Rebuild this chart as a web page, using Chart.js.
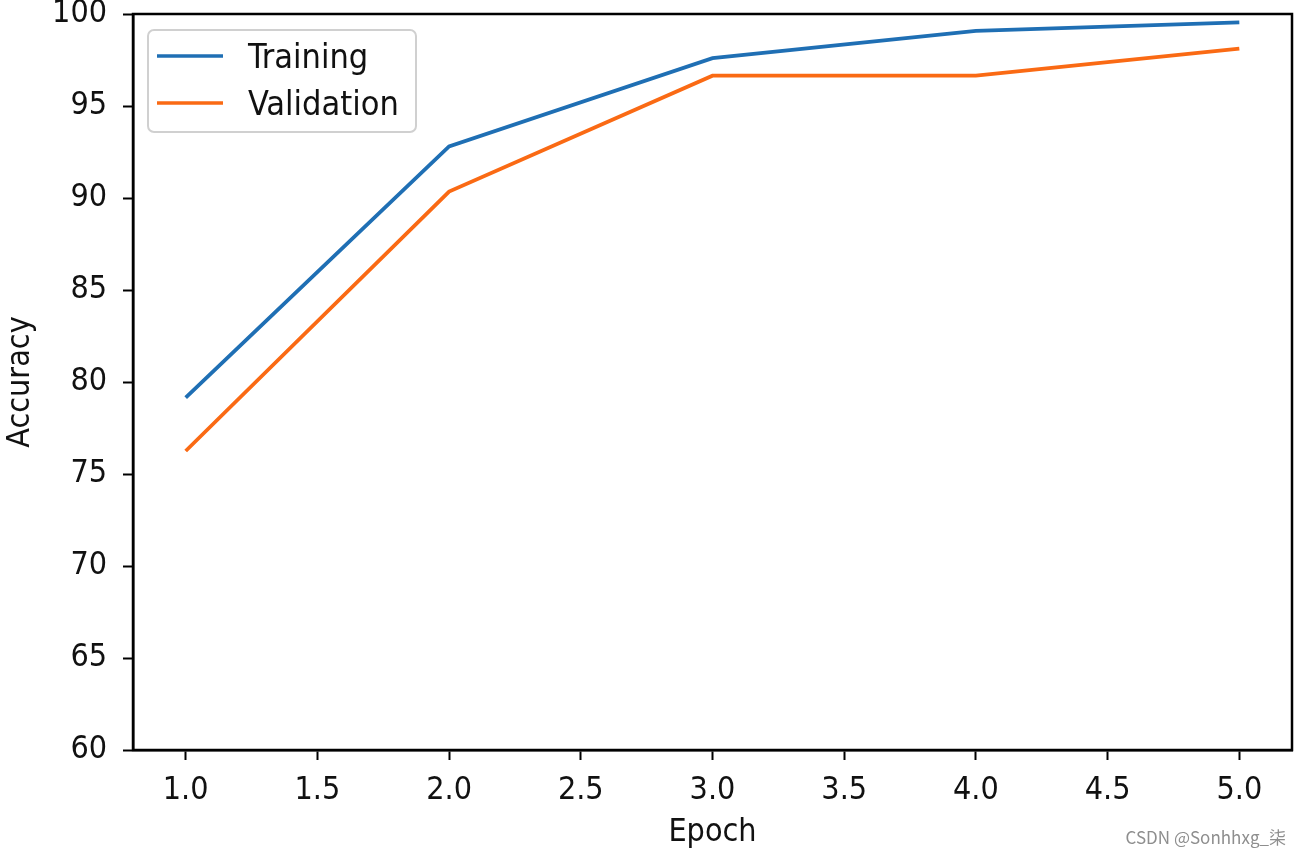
<!DOCTYPE html>
<html>
<head>
<meta charset="utf-8">
<script src="https://cdn.jsdelivr.net/npm/chart.js@4/dist/chart.umd.min.js"></script>
<style>
  html, body { margin: 0; padding: 0; background: #fff; }
  #wrap { position: relative; width: 1300px; height: 856px; }
  #mark { position: absolute; right: 14px; bottom: 7px; font: 17px "Noto Sans CJK SC", "DejaVu Sans", sans-serif; color: #8e8e8e; }
</style>
</head>
<body>
<div id="wrap">
  <canvas id="chart" width="1300" height="856"></canvas>
  <div id="mark">CSDN @Sonhhxg_柒</div>
</div>
<script>
// epochs and accuracy values
const epochs = [1, 2, 3, 4, 5];
const trainAcc = [79.15, 92.8, 97.6, 99.08, 99.55];
const valAcc = [76.25, 90.35, 96.65, 96.65, 98.12];
const xTicks = [1.0, 1.5, 2.0, 2.5, 3.0, 3.5, 4.0, 4.5, 5.0];
const yTicks = [60, 65, 70, 75, 80, 85, 90, 95, 100];

const FONT = '"DejaVu Sans Condensed", "DejaVu Sans", sans-serif';
const SIZE = 32;

function toPoints(values) {
    return epochs.map((e, i) => ({ x: e, y: values[i] }));
}

// cadre noir + légende dans la zone du graphique
const framePlugin = {
    id: 'frame',
    afterDraw(chart) {
        const ctx = chart.ctx;
        const a = chart.chartArea;
        ctx.save();
        ctx.strokeStyle = '#000';
        ctx.lineWidth = 2.5;
        ctx.strokeRect(a.left, a.top, a.right - a.left, a.bottom - a.top);

        // légende
        const bx = a.left + 15, by = a.top + 16, bw = 268, bh = 102;
        ctx.fillStyle = 'rgba(255,255,255,0.85)';
        ctx.strokeStyle = '#d0d0d0';
        ctx.lineWidth = 2;
        ctx.beginPath();
        ctx.roundRect(bx, by, bw, bh, 6);
        ctx.fill();
        ctx.stroke();
        ctx.font = '34px ' + FONT;
        ctx.textBaseline = 'middle';
        chart.data.datasets.forEach((ds, i) => {
            const y = by + 26 + i * 47;
            ctx.strokeStyle = ds.borderColor;
            ctx.lineWidth = 3.5;
            ctx.beginPath();
            ctx.moveTo(bx + 9, y);
            ctx.lineTo(bx + 75, y);
            ctx.stroke();
            ctx.fillStyle = '#111';
            ctx.fillText(ds.label, bx + 100, y + 3);
        });
        ctx.restore();
    }
};

new Chart(document.getElementById('chart'), {
    type: 'line',
    data: {
        datasets: [
            { label: 'Training', data: toPoints(trainAcc), borderColor: '#1f6fb4', borderWidth: 3.8, pointRadius: 0, tension: 0 },
            { label: 'Validation', data: toPoints(valAcc), borderColor: '#fa6a14', borderWidth: 3.8, pointRadius: 0, tension: 0 }
        ]
    },
    options: {
        responsive: false,
        animation: false,
        layout: { padding: { top: 14, right: 8, left: 0, bottom: 0 } },
        plugins: { legend: { display: false }, tooltip: { enabled: false } },
        scales: {
            x: {
                type: 'linear',
                min: 0.8,
                max: 5.2,
                afterBuildTicks: s => { s.ticks = xTicks.map(v => ({ value: v })); },
                afterFit: s => { s.height = 106; s.paddingLeft = 0; s.paddingRight = 0; },
                border: { display: true, color: '#000', width: 2.5 },
                grid: { drawOnChartArea: false, drawTicks: true, tickLength: 10, tickColor: '#000', tickWidth: 2 },
                ticks: { color: '#111', font: { family: FONT, size: SIZE }, padding: 11, maxRotation: 0, callback: v => v.toFixed(1) },
                title: { display: true, text: 'Epoch', color: '#111', font: { family: FONT, size: SIZE }, padding: { top: 0, bottom: 4 } }
            },
            y: {
                min: 60,
                max: 100,
                afterBuildTicks: s => { s.ticks = yTicks.map(v => ({ value: v })); },
                afterFit: s => { s.width = 133; s.paddingTop = 0; s.paddingBottom = 0; },
                border: { display: true, color: '#000', width: 2.5 },
                grid: { drawOnChartArea: false, drawTicks: true, tickLength: 10, tickColor: '#000', tickWidth: 2 },
                ticks: { color: '#111', font: { family: FONT, size: SIZE }, padding: 16 },
                title: { display: true, text: 'Accuracy', color: '#111', font: { family: FONT, size: SIZE }, padding: { top: 1, bottom: 0 } }
            }
        }
    },
    plugins: [framePlugin]
});
</script>
</body>
</html>
